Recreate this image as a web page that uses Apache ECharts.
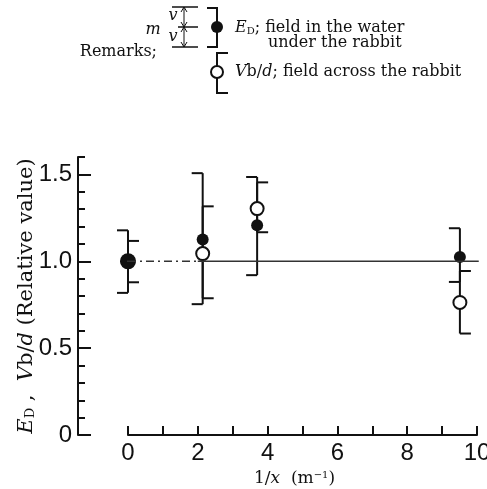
<!DOCTYPE html>
<html>
<head>
<meta charset="utf-8">
<script src="https://cdn.jsdelivr.net/npm/echarts@6/dist/echarts.min.js"></script>
<style>
html, body { margin: 0; padding: 0; background: #fff; }
#chart { width: 487px; height: 489px; }
</style>
</head>
<body>
<div id="chart"></div>
<script>
// tick labels
var xLabels = [0, 2, 4, 6, 8, 10];
var yLabels = [0, 0.5, 1.0, 1.5];

// 1/x positions of the measurements (m^-1)
var ptX = [0, 2.14, 3.70, 9.51];

// E_D: field in the water under the rabbit (filled)
var edMean = [1.00, 1.125, 1.207, 1.025];
var edLow = [0.818, 0.753, 0.920, 0.881];
var edHigh = [1.178, 1.507, 1.485, 1.190];

// Vb/d: field across the rabbit (open)
var vbMean = [1.00, 1.044, 1.303, 0.763];
var vbLow = [0.879, 0.787, 1.167, 0.584];
var vbHigh = [1.117, 1.316, 1.454, 0.944];

// reference line at relative value 1.0
var refY = 1.0;
var refStart = -0.88, refDashFrom = 0, refDashTo = 2.0, refEnd = 10.05;

var ink = '#111';
var serif = '"DejaVu Serif", "Liberation Serif", serif';
var sans = '"Liberation Sans", sans-serif';

function pairs(xs, ys) {
    return xs.map(function (x, i) { return [x, ys[i]]; });
}
function triples(xs, lo, hi) {
    return xs.map(function (x, i) { return [x, lo[i], hi[i]]; });
}

// bracket-style error bar: vertical bar, end ticks point left (-1) or right (+1)
function bracket(dir) {
    return function (params, api) {
        var x = api.value(0);
        var bot = api.coord([x, api.value(1)]);
        var top = api.coord([x, api.value(2)]);
        var len = 11 * dir;
        var st = { stroke: ink, lineWidth: 2 };
        return {
            type: 'group',
            children: [
                { type: 'line', shape: { x1: top[0], y1: top[1], x2: bot[0], y2: bot[1] }, style: st },
                { type: 'line', shape: { x1: top[0], y1: top[1], x2: top[0] + len, y2: top[1] }, style: st },
                { type: 'line', shape: { x1: bot[0], y1: bot[1], x2: bot[0] + len, y2: bot[1] }, style: st }
            ]
        };
    };
}

var myChart = echarts.init(document.getElementById('chart'));

var legendLine = { stroke: ink, lineWidth: 1.5 };
var legendText = { fill: ink, fontFamily: serif, fontSize: 16 };

var option = {
    backgroundColor: '#fff',
    animation: false,
    grid: { left: 128, right: 10, top: 157, bottom: 54, outerBoundsMode: 'none' },
    xAxis: {
        type: 'value',
        min: 0,
        max: 10,
        interval: 1,
        axisLine: { show: true, onZero: false, lineStyle: { color: ink, width: 2 } },
        axisTick: { show: true, inside: true, length: 9, lineStyle: { color: ink, width: 2 } },
        axisLabel: { customValues: xLabels, color: ink, fontFamily: sans, fontSize: 24, margin: 6 },
        splitLine: { show: false },
        name: '{n|1/}{i|x}{n|  (m}{s|\u22121}{n|)}',
        nameLocation: 'middle',
        nameGap: 35,
        nameTextStyle: {
            padding: [0, 16, 0, 0],
            rich: {
                n: { fontFamily: serif, fontSize: 17, color: ink },
                i: { fontFamily: serif, fontSize: 17, fontStyle: 'italic', color: ink },
                s: { fontFamily: serif, fontSize: 10, color: ink, verticalAlign: 'top' }
            }
        }
    },
    yAxis: [{
        type: 'value',
        min: 0,
        max: 1.6,
        interval: 0.1,
        position: 'left',
        offset: 50,
        axisLine: { show: true, onZero: false, lineStyle: { color: ink, width: 2 } },
        axisTick: { show: true, inside: true, length: 7, lineStyle: { color: ink, width: 2 } },
        axisLabel: { show: false },
        splitLine: { show: false },
        name: '{i|E}{s|D}{n| ,  }{i|V}{n|b/}{i|d}{n| (Relative value)}',
        nameLocation: 'middle',
        nameRotate: 90,
        nameGap: 41,
        nameTextStyle: {
            rich: {
                n: { fontFamily: serif, fontSize: 21, color: ink },
                i: { fontFamily: serif, fontSize: 21, fontStyle: 'italic', color: ink },
                s: { fontFamily: serif, fontSize: 13, color: ink, verticalAlign: 'bottom' }
            }
        }
    }, {
        type: 'value',
        min: 0,
        max: 1.6,
        position: 'left',
        offset: 50,
        axisLine: { show: false, onZero: false },
        axisTick: { show: true, inside: true, length: 13, customValues: yLabels, lineStyle: { color: ink, width: 2 } },
        axisLabel: {
            customValues: yLabels,
            color: ink,
            fontFamily: sans,
            fontSize: 24,
            margin: 6,
            formatter: function (v) { return v === 0 ? '0' : v.toFixed(1); }
        },
        splitLine: { show: false }
    }],
    series: [{
        type: 'line',
        clip: false,
        silent: true,
        symbol: 'none',
        lineStyle: { color: '#333', width: 1.4 },
        data: [[refStart, refY], [refDashFrom, refY]]
    }, {
        type: 'line',
        clip: false,
        silent: true,
        symbol: 'none',
        lineStyle: { color: '#333', width: 1.4, type: [8, 4, 2, 4] },
        data: [[refDashFrom, refY], [refDashTo, refY]]
    }, {
        type: 'line',
        clip: false,
        silent: true,
        symbol: 'none',
        lineStyle: { color: '#333', width: 1.4 },
        data: [[refDashTo, refY], [refEnd, refY]]
    }, {
        type: 'custom',
        silent: true,
        renderItem: bracket(-1),
        encode: { x: 0, y: [1, 2] },
        data: triples(ptX, edLow, edHigh)
    }, {
        type: 'custom',
        silent: true,
        renderItem: bracket(1),
        encode: { x: 0, y: [1, 2] },
        data: triples(ptX, vbLow, vbHigh)
    }, {
        type: 'scatter',
        silent: true,
        symbol: 'circle',
        symbolSize: 13,
        itemStyle: { color: '#fff', borderColor: ink, borderWidth: 2, opacity: 1 },
        data: pairs(ptX, vbMean)
    }, {
        type: 'scatter',
        silent: true,
        symbol: 'circle',
        symbolSize: function (v, p) { return p.dataIndex === 0 ? 16 : 12; },
        itemStyle: { color: ink, opacity: 1 },
        data: pairs(ptX, edMean)
    }],
    graphic: [
        // the "Remarks" key
        { type: 'text', style: Object.assign({ text: 'Remarks;', x: 157, y: 52, align: 'right', verticalAlign: 'middle' }, legendText) },
        { type: 'text', style: Object.assign({ text: 'm', x: 153, y: 30, align: 'center', verticalAlign: 'middle', fontStyle: 'italic' }, legendText) },
        { type: 'text', style: Object.assign({ text: 'v', x: 173, y: 16, align: 'center', verticalAlign: 'middle', fontStyle: 'italic' }, legendText) },
        { type: 'text', style: Object.assign({ text: 'v', x: 173, y: 37, align: 'center', verticalAlign: 'middle', fontStyle: 'italic' }, legendText) },
        { type: 'line', shape: { x1: 172, y1: 7, x2: 198, y2: 7 }, style: legendLine },
        { type: 'line', shape: { x1: 178, y1: 27, x2: 198, y2: 27 }, style: legendLine },
        { type: 'line', shape: { x1: 172, y1: 47, x2: 198, y2: 47 }, style: legendLine },
        { type: 'line', shape: { x1: 184, y1: 7, x2: 184, y2: 47 }, style: { stroke: ink, lineWidth: 1 } },
        { type: 'polyline', shape: { points: [[181, 12], [184, 7], [187, 12]] }, style: { stroke: ink, lineWidth: 1, fill: null } },
        { type: 'polyline', shape: { points: [[181, 22], [184, 27], [187, 22]] }, style: { stroke: ink, lineWidth: 1, fill: null } },
        { type: 'polyline', shape: { points: [[181, 32], [184, 27], [187, 32]] }, style: { stroke: ink, lineWidth: 1, fill: null } },
        { type: 'polyline', shape: { points: [[181, 42], [184, 47], [187, 42]] }, style: { stroke: ink, lineWidth: 1, fill: null } },
        { type: 'polyline', shape: { points: [[207, 8], [217, 8], [217, 47], [207, 47]] }, style: { stroke: ink, lineWidth: 2, fill: null } },
        { type: 'circle', shape: { cx: 217, cy: 27, r: 6 }, style: { fill: ink } },
        { type: 'polyline', shape: { points: [[228, 53], [217, 53], [217, 93], [228, 93]] }, style: { stroke: ink, lineWidth: 2, fill: null } },
        { type: 'circle', shape: { cx: 217, cy: 72, r: 6 }, style: { fill: '#fff', stroke: ink, lineWidth: 2 } },
        {
            type: 'text',
            style: {
                text: '{i|E}{s|D}{n|; field in the water}',
                x: 235, y: 28, verticalAlign: 'middle',
                rich: {
                    n: { fontFamily: serif, fontSize: 16, fill: ink },
                    i: { fontFamily: serif, fontSize: 16, fontStyle: 'italic', fill: ink },
                    s: { fontFamily: serif, fontSize: 10, fill: ink, verticalAlign: 'bottom' }
                }
            }
        },
        { type: 'text', style: { text: 'under the rabbit', x: 268, y: 43, verticalAlign: 'middle', fill: ink, fontFamily: serif, fontSize: 16 } },
        {
            type: 'text',
            style: {
                text: '{i|V}{n|b/}{i|d}{n|; field across the rabbit}',
                x: 235, y: 72, verticalAlign: 'middle',
                rich: {
                    n: { fontFamily: serif, fontSize: 16, fill: ink },
                    i: { fontFamily: serif, fontSize: 16, fontStyle: 'italic', fill: ink }
                }
            }
        }
    ]
};
myChart.setOption(option);
</script>
</body>
</html>
